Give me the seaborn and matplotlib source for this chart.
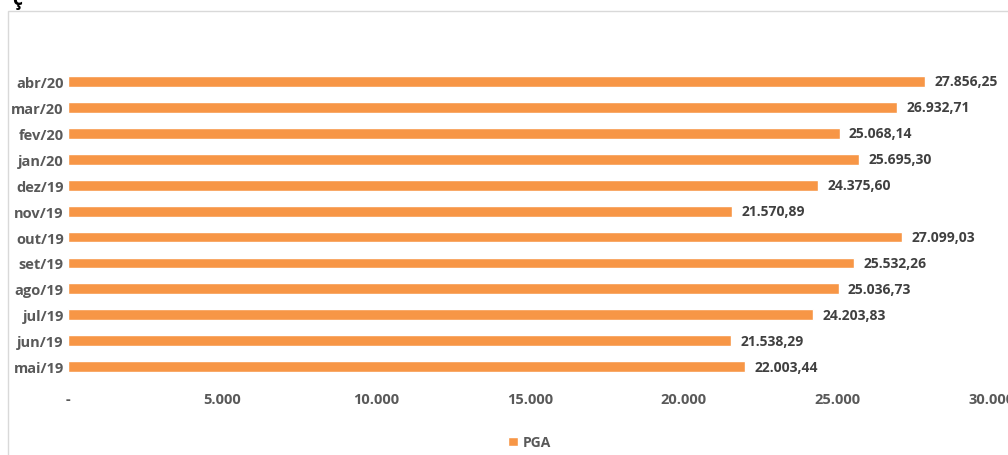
import matplotlib
matplotlib.use("Agg")
import matplotlib.pyplot as plt
from matplotlib.patches import Rectangle
import pandas as pd
import seaborn as sns

# data
months = ['abr/20', 'mar/20', 'fev/20', 'jan/20', 'dez/19', 'nov/19',
          'out/19', 'set/19', 'ago/19', 'jul/19', 'jun/19', 'mai/19']
pga = [27856.25, 26932.71, 25068.14, 25695.30, 24375.60, 21570.89,
       27099.03, 25532.26, 25036.73, 24203.83, 21538.29, 22003.44]
xticks = [0, 5000, 10000, 15000, 20000, 25000, 30000]
xticklabels = ['-', '5.000', '10.000', '15.000', '20.000', '25.000', '30.000']

df = pd.DataFrame({'Mes': months, 'Valor': pga, 'Serie': 'PGA'})

sns.set_theme(style='white')
plt.rcParams['font.family'] = ['Open Sans', 'DejaVu Sans']

orange = '#F79646'
grey = '#595959'

fig = plt.figure(figsize=(10.08, 4.56), dpi=100)
ax = fig.add_axes([0.0675, 0.165, 0.916, 0.683])

sns.barplot(data=df, x='Valor', y='Mes', hue='Serie', order=months,
            palette=[orange], saturation=1, width=0.42, orient='h', ax=ax, legend=True)

def fmt(v):
    s = f'{v:,.2f}'
    return s.replace(',', 'X').replace('.', ',').replace('X', '.')

for i, v in enumerate(pga):
    ax.text(v + 300, i, fmt(v), va='center', ha='left',
            fontsize=10, fontweight='bold', color='#404040')

ax.set_xlim(0, 30000)
ax.set_ylim(11.5, -0.5)
ax.set_xticks(xticks)
ax.set_xticklabels(xticklabels)
ax.set_xlabel('')
ax.set_ylabel('')
ax.tick_params(axis='both', length=0, labelsize=10.5, labelcolor=grey)
ax.tick_params(axis='x', pad=9)
ax.tick_params(axis='y', pad=3)
for lab in ax.get_xticklabels() + ax.get_yticklabels():
    lab.set_fontweight('bold')
sns.despine(ax=ax, left=True, bottom=True)

leg = ax.legend(loc='upper center', bbox_to_anchor=(0.5, -0.17), frameon=False,
                fontsize=10, handlelength=0.7, handleheight=0.7, handletextpad=0.4,
                borderaxespad=0, borderpad=0.2)
for t in leg.get_texts():
    t.set_color(grey)
    t.set_fontweight('bold')

# outer chart border (cropped)
fig.patches.append(Rectangle((0.008, -0.1), 1.1, 1.074, transform=fig.transFigure,
                             fill=False, edgecolor='#d9d9d9', linewidth=1))
# fragment of title cut off at the top
fig.text(0.012, 1.0, 'ç', fontsize=14, fontweight='bold', color='black',
         ha='left', va='center')

fig.savefig('out.png', dpi=100, facecolor='white')
